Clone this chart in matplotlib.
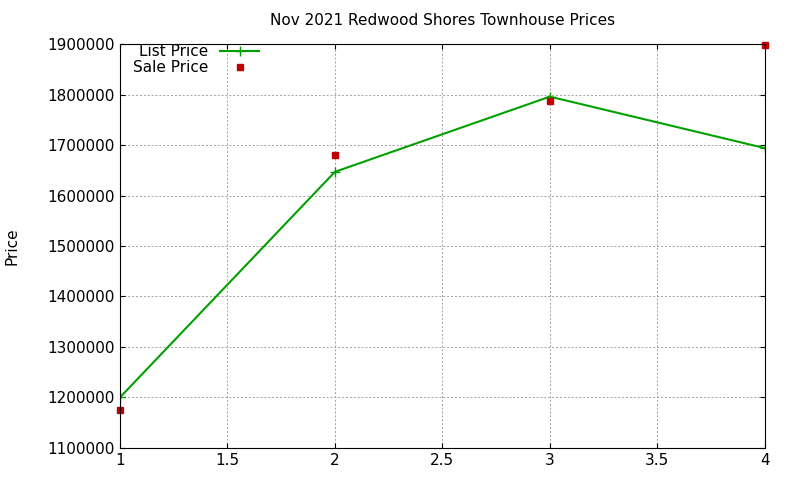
import matplotlib
matplotlib.use("Agg")
import matplotlib.pyplot as plt

x = [1, 2, 3, 4]
list_price = [1200000, 1647000, 1796000, 1694000]
sale_price = [1175000, 1680000, 1787000, 1899000]

fig = plt.figure(figsize=(8, 4.8), dpi=100)
ax = fig.add_axes([0.15, 0.067, 0.806, 0.841])
ax.plot(x, list_price, color="#00a000", marker="+", markersize=7, linewidth=1.5, label="List Price")
ax.plot(x, sale_price, color="#c00000", marker="s", markersize=5, linestyle="none",
        label="Sale Price", clip_on=False)
ax.set_xlim(1, 4)
ax.set_ylim(1100000, 1900000)
ax.set_xticks([1, 1.5, 2, 2.5, 3, 3.5, 4])
ax.set_xticklabels(["1", "1.5", "2", "2.5", "3", "3.5", "4"])
ax.set_yticks(range(1100000, 1900001, 100000))
ax.set_yticklabels([str(v) for v in range(1100000, 1900001, 100000)])
ax.grid(True, color="#a0a0a0", linestyle=(0, (2, 2)), linewidth=0.7)
ax.tick_params(direction="in", labelsize=11, top=True, right=True)
ax.set_ylabel("Price", fontsize=11, labelpad=20)
ax.set_title("Nov 2021 Redwood Shores Townhouse Prices", fontsize=11, pad=14)
ax.legend(loc="upper left", frameon=False, markerfirst=False, fontsize=11,
          handlelength=2.5, borderaxespad=0.0, labelspacing=0.05, borderpad=0.0,
          bbox_to_anchor=(0.02, 1.0))
fig.savefig("out.png")
